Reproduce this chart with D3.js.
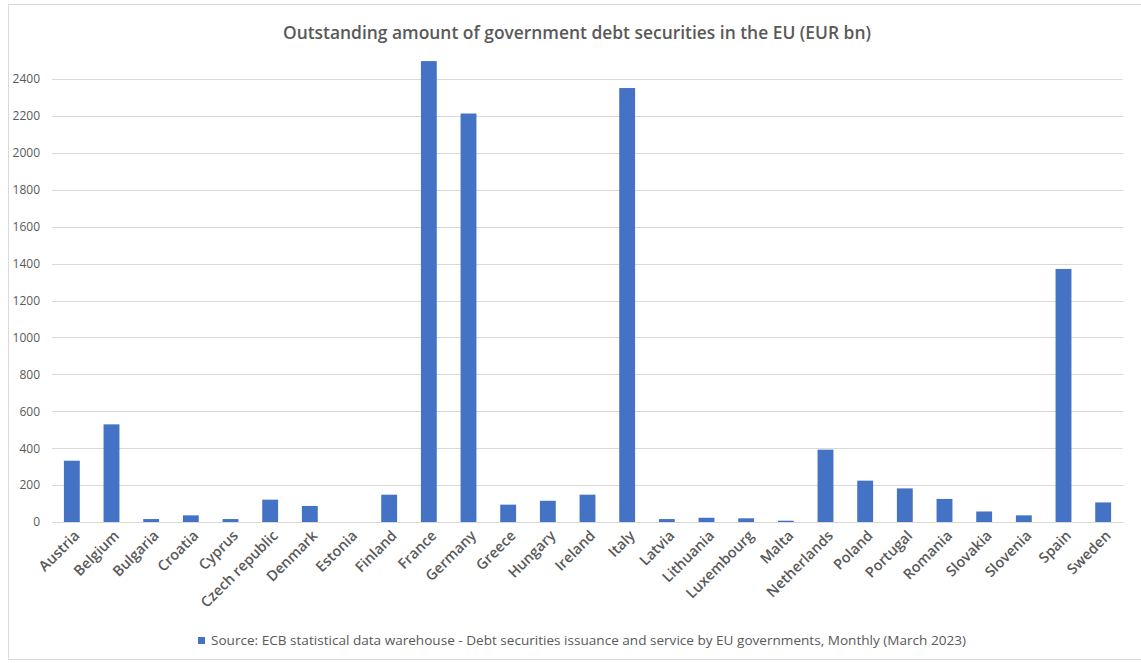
<!DOCTYPE html>
<html>
<head>
<meta charset="utf-8">
<script src="https://cdn.jsdelivr.net/npm/d3@7"></script>
<style>
  body { margin: 0; background: #fff; }
  text { font-family: "Open Sans", sans-serif; fill: #595959; }
</style>
</head>
<body>
<div id="chart"></div>
<script>
// country names on the x axis
const countries = ["Austria", "Belgium", "Bulgaria", "Croatia", "Cyprus", "Czech republic",
  "Denmark", "Estonia", "Finland", "France", "Germany", "Greece", "Hungary", "Ireland",
  "Italy", "Latvia", "Lithuania", "Luxembourg", "Malta", "Netherlands", "Poland",
  "Portugal", "Romania", "Slovakia", "Slovenia", "Spain", "Sweden"];

// outstanding debt securities, EUR bn
const amounts = [332, 529, 16, 36, 16, 121, 87, 0, 148, 2497, 2213, 94, 115, 148,
  2351, 16, 23, 20, 7, 392, 224, 182, 125, 57, 36, 1371, 106];

const yTicks = [0, 200, 400, 600, 800, 1000, 1200, 1400, 1600, 1800, 2000, 2200, 2400];

const titleText = "Outstanding amount of government debt securities in the EU (EUR bn)";
const legendText = "Source: ECB statistical data warehouse - Debt securities issuance and service by EU governments, Monthly (March 2023)";

const fullWidth = 1141, fullHeight = 663;
const margin = { top: 79, right: 18, bottom: 141, left: 52 };

const data = countries.map((c, i) => ({ name: c, value: amounts[i] }));

const svg = d3.select("#chart")
  .append("svg")
  .attr("width", fullWidth)
  .attr("height", fullHeight);

// chart border
svg.append("rect")
  .attr("x", 8.5).attr("y", 4.5)
  .attr("width", fullWidth + 10).attr("height", fullHeight - 8)
  .attr("fill", "none")
  .attr("stroke", "#d9d9d9");

const x = d3.scaleBand()
  .domain(countries)
  .range([margin.left, fullWidth - margin.right])
  .paddingInner(0.6)
  .paddingOuter(0.3);

const y = d3.scaleLinear()
  .domain([0, 2400])
  .range([fullHeight - margin.bottom, margin.top]);

// gridlines
svg.append("g")
  .selectAll("line")
  .data(yTicks)
  .join("line")
  .attr("x1", margin.left)
  .attr("x2", fullWidth - margin.right)
  .attr("y1", d => Math.round(y(d)) + 0.5)
  .attr("y2", d => Math.round(y(d)) + 0.5)
  .attr("stroke", "#d9d9d9")
  .attr("stroke-width", 1);

// y axis labels
const yAxis = svg.append("g")
  .attr("transform", `translate(${margin.left},0)`)
  .call(d3.axisLeft(y).tickValues(yTicks).tickFormat(d3.format("d")).tickSize(0).tickPadding(12));
yAxis.select(".domain").remove();
yAxis.selectAll("text")
  .style("font-size", "12px")
  .style("font-family", "'Open Sans', sans-serif")
  .attr("fill", "#595959");

// bars
svg.append("g")
  .selectAll("rect")
  .data(data)
  .join("rect")
  .attr("x", d => x(d.name))
  .attr("y", d => y(d.value))
  .attr("width", x.bandwidth())
  .attr("height", d => y(0) - y(d.value))
  .attr("fill", "#4472c4");

// x axis labels
const xAxis = svg.append("g")
  .attr("transform", `translate(0,${y(0)})`)
  .call(d3.axisBottom(x).tickSize(0).tickPadding(0));
xAxis.select(".domain").remove();
xAxis.selectAll("text")
  .attr("text-anchor", "end")
  .attr("y", 0)
  .attr("dy", "0.35em")
  .attr("transform", "translate(5,11) rotate(-45)")
  .style("font-size", "14.5px")
  .style("font-weight", "600")
  .style("font-family", "'Open Sans', sans-serif")
  .attr("fill", "#595959");

// title
svg.append("text")
  .attr("x", 577)
  .attr("y", 39)
  .attr("text-anchor", "middle")
  .attr("textLength", 588)
  .attr("lengthAdjust", "spacingAndGlyphs")
  .style("font-size", "18px")
  .style("font-weight", "600")
  .text(titleText);

// legend
const legend = svg.append("g").attr("transform", "translate(198,637)");
legend.append("rect")
  .attr("width", 7).attr("height", 7)
  .attr("fill", "#4472c4");
legend.append("text")
  .attr("x", 13)
  .attr("y", 8)
  .attr("textLength", 755)
  .attr("lengthAdjust", "spacingAndGlyphs")
  .style("font-size", "12.5px")
  .text(legendText);
</script>
</body>
</html>
